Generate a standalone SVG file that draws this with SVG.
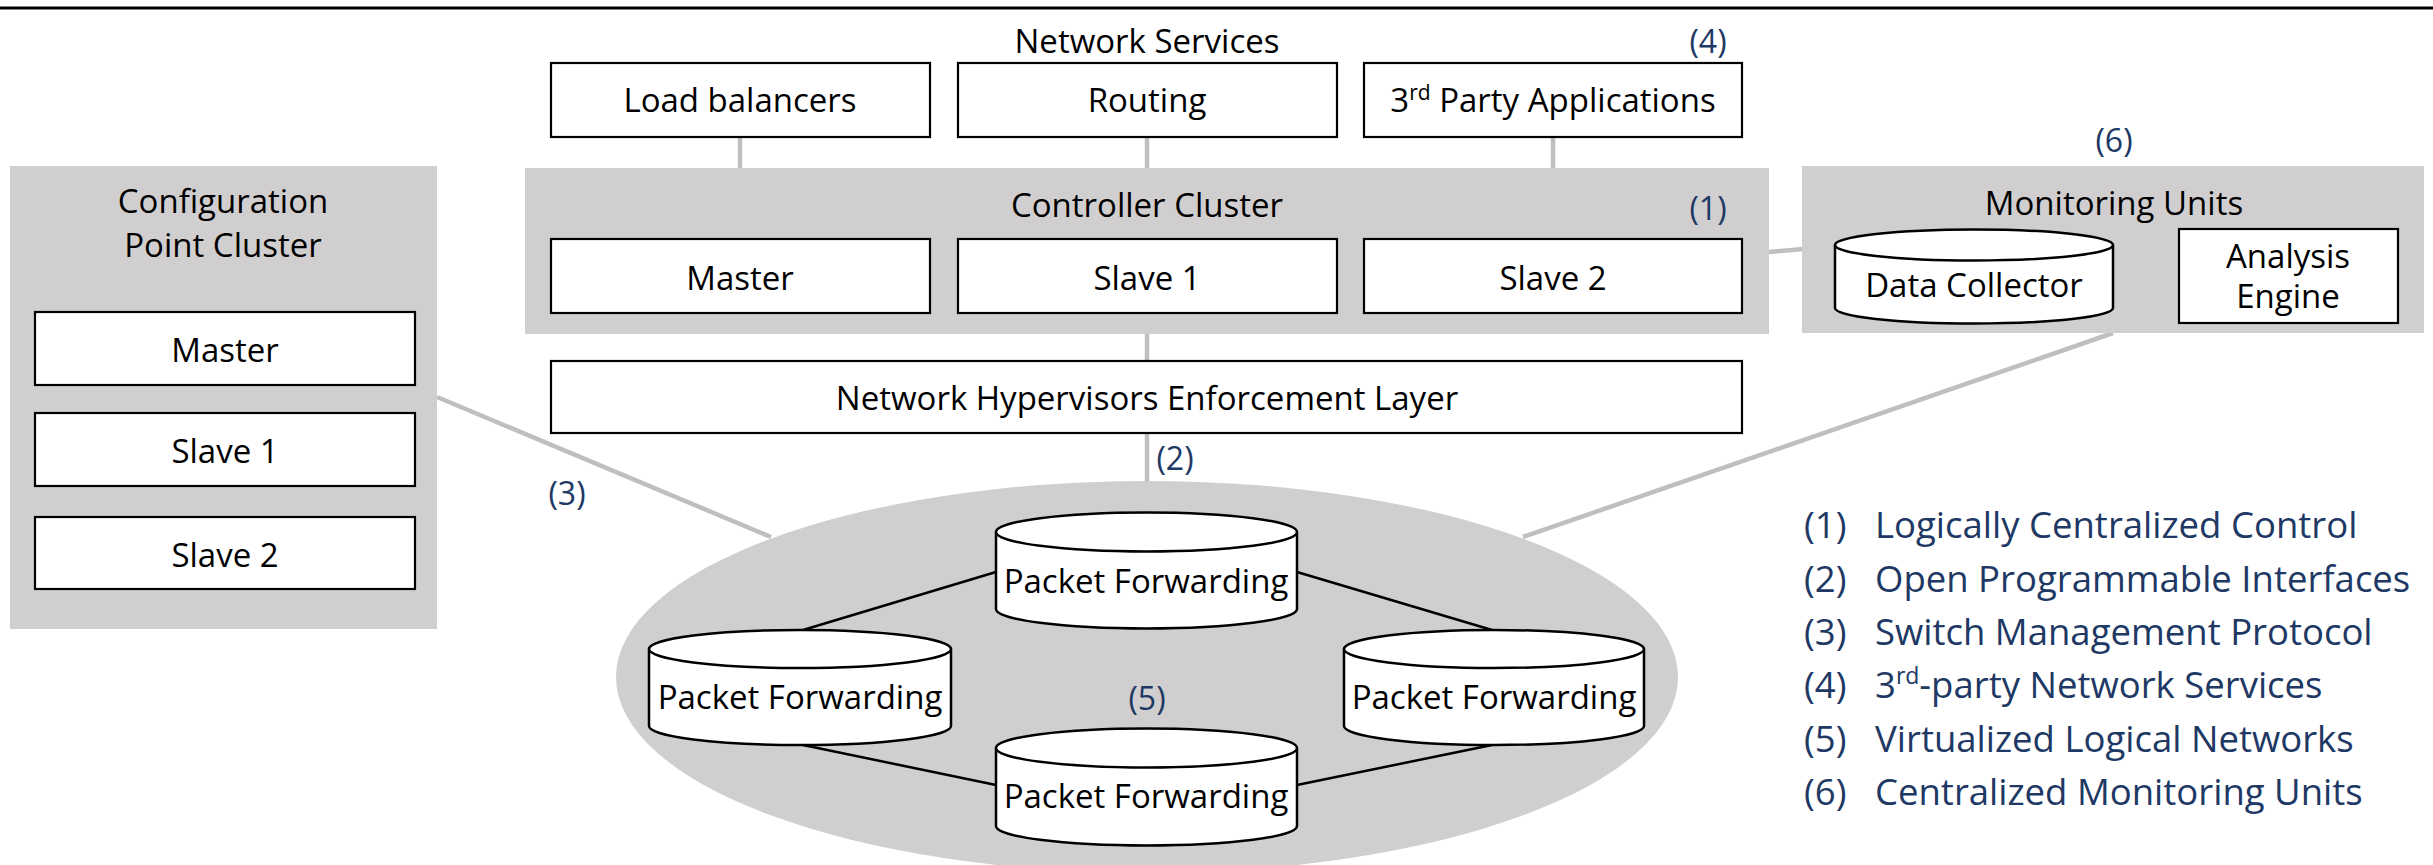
<svg xmlns="http://www.w3.org/2000/svg" width="2433" height="865" viewBox="0 0 2433 865">
<style>
.t{font-family:"Open Sans","Noto Sans",sans-serif;font-size:33px;fill:#000;text-anchor:middle}
.n{font-family:"Open Sans","Noto Sans",sans-serif;font-size:32px;fill:#203864;text-anchor:middle}
.lg{font-family:"Open Sans","Noto Sans",sans-serif;font-size:36.5px;fill:#203864}
.box{fill:#fff;stroke:#000;stroke-width:2.2}
.grp{fill:#D0CECE}
.cyl{fill:#fff;stroke:#000;stroke-width:2.5}
.gc{stroke:#BFBFBF;stroke-width:4.5;fill:none}
.bk{stroke:#000;stroke-width:2.5;fill:none}
</style>
<rect width="2433" height="865" fill="#fff"/>
<line x1="0" y1="8" x2="2433" y2="8" stroke="#000" stroke-width="2.8"/>

<g id="connectors">
<line class="gc" x1="740" y1="137" x2="740" y2="168"/>
<line class="gc" x1="1147" y1="137" x2="1147" y2="168"/>
<line class="gc" x1="1553" y1="137" x2="1553" y2="168"/>
<line class="gc" x1="1147" y1="334" x2="1147" y2="361"/>
<line class="gc" x1="1769" y1="252" x2="1803" y2="249"/>
<line class="gc" x1="1147" y1="433" x2="1147" y2="481"/>
<line class="gc" x1="437" y1="397" x2="771" y2="537"/>
<line class="gc" x1="2113" y1="333" x2="1523" y2="537"/>
</g>

<g id="network-services">
<text class="t" x="1147" y="53">Network Services</text>
<text class="n" x="1708" y="53">(4)</text>
</g>
<g id="load-balancers"><rect class="box" x="551" y="63" width="379" height="74"/><text class="t" x="740" y="112">Load balancers</text></g>
<g id="routing"><rect class="box" x="958" y="63" width="379" height="74"/><text class="t" x="1147" y="112">Routing</text></g>
<g id="third-party"><rect class="box" x="1364" y="63" width="378" height="74"/><text class="t" x="1553" y="112">3<tspan font-size="21" dy="-12">rd</tspan><tspan dy="12"> Party Applications</tspan></text></g>

<g id="controller-cluster">
<rect class="grp" x="525" y="168" width="1244" height="166"/>
<text class="t" x="1147" y="217">Controller Cluster</text>
<text class="n" x="1708" y="220">(1)</text>
<rect class="box" x="551" y="239" width="379" height="74"/><text class="t" x="740" y="290">Master</text>
<rect class="box" x="958" y="239" width="379" height="74"/><text class="t" x="1147" y="290">Slave 1</text>
<rect class="box" x="1364" y="239" width="378" height="74"/><text class="t" x="1553" y="290">Slave 2</text>
</g>

<g id="enforcement-layer"><rect class="box" x="551" y="361" width="1191" height="72"/><text class="t" x="1147" y="410">Network Hypervisors Enforcement Layer</text></g>

<g id="config-cluster">
<rect class="grp" x="10" y="166" width="427" height="463"/>
<text class="t" x="223" y="213">Configuration</text>
<text class="t" x="223" y="257">Point Cluster</text>
<rect class="box" x="35" y="312" width="380" height="73"/><text class="t" x="225" y="362">Master</text>
<rect class="box" x="35" y="413" width="380" height="73"/><text class="t" x="225" y="463">Slave 1</text>
<rect class="box" x="35" y="517" width="380" height="72"/><text class="t" x="225" y="567">Slave 2</text>
</g>

<g id="monitoring-units">
<text class="n" x="2114" y="152">(6)</text>
<rect class="grp" x="1802" y="166" width="622" height="167"/>
<text class="t" x="2114" y="215">Monitoring Units</text>
<path class="cyl" d="M1835,245 L1835,308 A139,15.5 0 0 0 2113,308 L2113,245"/>
<ellipse class="cyl" cx="1974" cy="245" rx="139" ry="15.5"/>
<text class="t" x="1974" y="297">Data Collector</text>
<rect class="box" x="2179" y="229" width="219" height="94"/>
<text class="t" x="2288" y="268">Analysis</text>
<text class="t" x="2288" y="308">Engine</text>
</g>

<g id="virtual-network">
<ellipse cx="1147" cy="677" rx="531" ry="196" fill="#D0CECE"/>
<line class="bk" x1="996" y1="572" x2="803" y2="630"/>
<line class="bk" x1="1297" y1="572" x2="1492" y2="630"/>
<line class="bk" x1="803" y1="745" x2="996" y2="785"/>
<line class="bk" x1="1492" y1="745" x2="1297" y2="785"/>
<text class="n" x="1147" y="710">(5)</text>
</g>

<g id="pf-top">
<path class="cyl" d="M996,532 L996,609 A150.5,19.5 0 0 0 1297,609 L1297,532"/>
<ellipse class="cyl" cx="1146.5" cy="532" rx="150.5" ry="19.5"/>
<text class="t" x="1146" y="593">Packet Forwarding</text>
</g>
<g id="pf-left">
<path class="cyl" d="M649,649 L649,726 A151,19 0 0 0 951,726 L951,649"/>
<ellipse class="cyl" cx="800" cy="649" rx="151" ry="19"/>
<text class="t" x="800" y="709">Packet Forwarding</text>
</g>
<g id="pf-right">
<path class="cyl" d="M1344,649 L1344,726 A150,19 0 0 0 1644,726 L1644,649"/>
<ellipse class="cyl" cx="1494" cy="649" rx="150" ry="19"/>
<text class="t" x="1494" y="709">Packet Forwarding</text>
</g>
<g id="pf-bottom">
<path class="cyl" d="M996,748 L996,826 A150.5,19.5 0 0 0 1297,826 L1297,748"/>
<ellipse class="cyl" cx="1146.5" cy="748" rx="150.5" ry="19.5"/>
<text class="t" x="1146" y="808">Packet Forwarding</text>
</g>

<g id="labels">
<text class="n" x="1175" y="470">(2)</text>
<text class="n" x="567" y="505">(3)</text>
</g>

<g id="legend">
<text class="lg" x="1804" y="538">(1)</text><text class="lg" x="1875" y="538">Logically Centralized Control</text>
<text class="lg" x="1804" y="592">(2)</text><text class="lg" x="1875" y="592">Open Programmable Interfaces</text>
<text class="lg" x="1804" y="645">(3)</text><text class="lg" x="1875" y="645">Switch Management Protocol</text>
<text class="lg" x="1804" y="698">(4)</text><text class="lg" x="1875" y="698">3<tspan font-size="23" dy="-14">rd</tspan><tspan dy="14">-party Network Services</tspan></text>
<text class="lg" x="1804" y="752">(5)</text><text class="lg" x="1875" y="752">Virtualized Logical Networks</text>
<text class="lg" x="1804" y="805">(6)</text><text class="lg" x="1875" y="805">Centralized Monitoring Units</text>
</g>
</svg>
